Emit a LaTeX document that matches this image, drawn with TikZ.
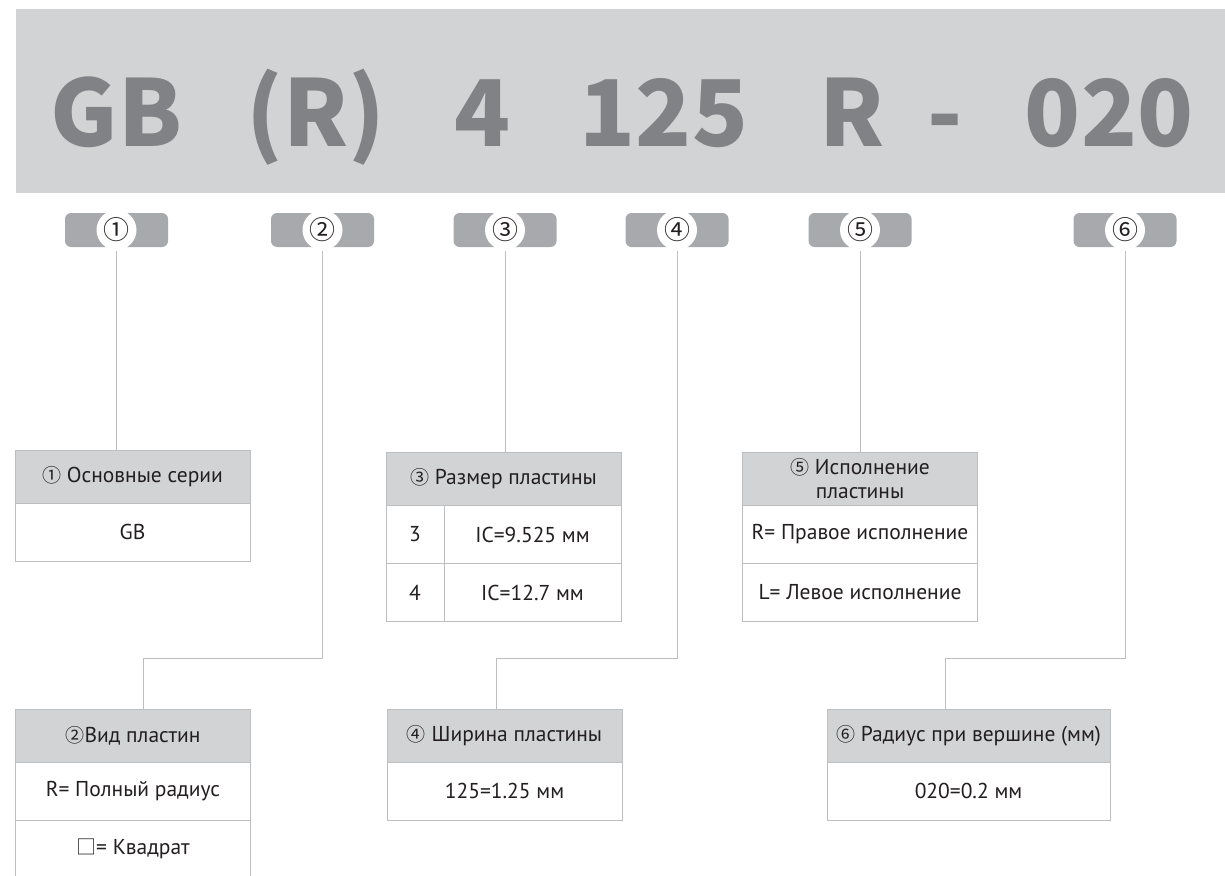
\documentclass[tikz,border=0pt]{standalone}
\usepackage{fontspec}
\newfontfamily\cjk{Noto Sans CJK SC}
\newfontfamily\tbl{PT Sans}
\usetikzlibrary{positioning}
\definecolor{bannerGray}{HTML}{D1D3D4}
\definecolor{codeGray}{HTML}{808285}
\definecolor{badgeGray}{HTML}{A7A9AC}
\definecolor{rule}{HTML}{BCBEC0}
\definecolor{ink}{HTML}{231F20}
\newcommand\cnum[1]{{\cjk\fontsize{19}{19}\selectfont #1}}

\begin{document}
\begin{tikzpicture}[x=1pt,y=-1pt,node distance=0pt]
    \tikzset{code/.style={anchor=base,inner sep=0,text=codeGray,font=\cjk\bfseries\fontsize{92}{92}\selectfont},
      badge/.style={fill=badgeGray,rounded corners=6pt,minimum width=103pt,minimum height=34pt,inner sep=0},
      num/.style={circle,fill=white,minimum size=40pt,inner sep=0,text=ink,font=\cjk\fontsize{26}{26}\selectfont},
      hd/.style={draw=rule,fill=bannerGray,line width=0.8pt,minimum width=235pt,minimum height=53pt,outer sep=0,inner sep=1pt,align=center,text=ink,font=\tbl\fontsize{21.5}{24}\selectfont},
      cell/.style={hd,fill=white,minimum height=58pt},
      link/.style={draw=rule,line width=0.8pt,shorten <=4pt}}
    \clip (0,0) rectangle (1225,875);
    % code banner
    \node[fill=bannerGray,anchor=north west,minimum width=1209pt,minimum height=184pt,inner sep=0] (banner) at (16,9) {};
    \node[code] (cGB) at (116.5,146) {GB};
    \node[code] (cR) at (316,146) {(R)};
    \node[code] (cW) at (483,146) {4};
    \node[code] (cS) at (664,146) {125};
    \node[code] (cH) at (852,146) {R};
    \node[code] (cD) at (945,146) {-};
    \node[code] (cRad) at (1109,146) {020};
    % badges
    \foreach \i/\x/\d in {1/116.5/①,2/322.5/②,3/505/③,4/677/④,5/860/⑤,6/1125/⑥}{
      \node[badge] (b\i) at (\x,230) {};
      \node[num] at (b\i) {\d};
    }
    % upper tables
    \node[hd] (t1h) at (132.5,476.5) {\cnum{①} Основные серии};
    \node[cell,below=of t1h] (t1a) {GB};
    \node[hd] (t3h) at (503.5,479) {\cnum{③} Размер пластины};
    \node[cell,minimum width=58pt,anchor=north west] (t3a) at (t3h.south west) {3};
    \node[cell,minimum width=177pt,right=of t3a] (t3b) {IC=9.525 мм};
    \node[cell,minimum width=58pt,below=of t3a] (t3c) {4};
    \node[cell,minimum width=177pt,right=of t3c] (t3d) {IC=12.7 мм};
    \node[hd] (t5h) at (860,479) {\cnum{⑤} Исполнение\\пластины};
    \node[cell,below=of t5h] (t5a) {R= Правое исполнение};
    \node[cell,below=of t5a] (t5b) {L= Левое исполнение};
    % lower tables
    \node[hd] (t2h) at (133,735.5) {\cnum{②}Вид пластин};
    \node[cell,below=of t2h] (t2a) {R= Полный радиус};
    \node[cell,below=of t2a] (t2b) {{\cjk\fontsize{20}{20}\selectfont □}= Квадрат};
    \node[hd] (t4h) at (504.5,735.5) {\cnum{④} Ширина пластины};
    \node[cell,below=of t4h] (t4a) {125=1.25 мм};
    \node[hd,minimum width=283pt] (t6h) at (968.5,735.5) {\cnum{⑥} Радиус при вершине (мм)};
    \node[cell,minimum width=283pt,below=of t6h] (t6a) {020=0.2 мм};
    % connectors
    \coordinate (k2) at (143,658);
    \coordinate (k4) at (496,658);
    \coordinate (k6) at (945,658);
    \draw[link] (b1.south) -- (b1.south |- t1h.north);
    \draw[link] (b3.south) -- (b3.south |- t3h.north);
    \draw[link] (b5.south) -- (b5.south |- t5h.north);
    \draw[link] (b2.south) |- (k2) -- (k2 |- t2h.north);
    \draw[link] (b4.south) |- (k4) -- (k4 |- t4h.north);
    \draw[link] (b6.south) |- (k6) -- (k6 |- t6h.north);
\end{tikzpicture}
\end{document}
